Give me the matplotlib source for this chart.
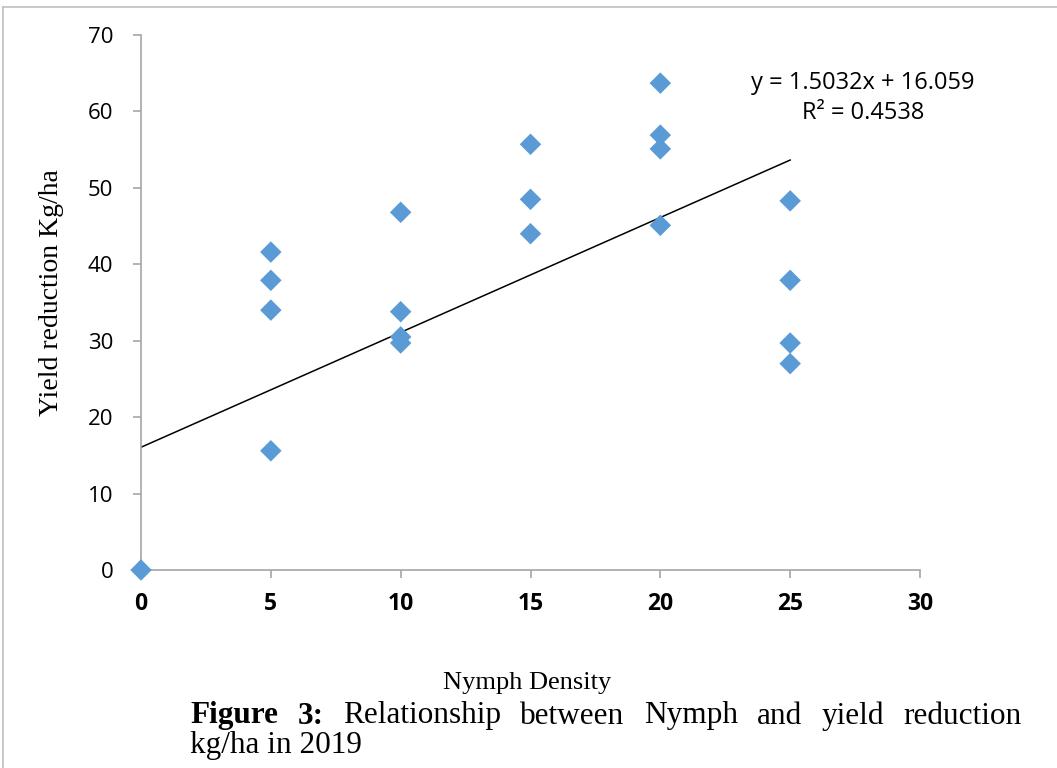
import matplotlib
matplotlib.use("Agg")
import matplotlib.pyplot as plt
from matplotlib.lines import Line2D
import numpy as np

# Data
nymph_density = [0, 5, 5, 5, 5, 10, 10, 10, 10, 15, 15, 15, 20, 20, 20, 20, 25, 25, 25, 25]
yield_reduction = [0, 41.6, 37.9, 34.0, 15.6, 46.8, 33.8, 30.5, 29.7, 55.7, 48.5, 44.0,
                   63.7, 56.9, 55.1, 45.1, 48.3, 37.9, 29.7, 27.0]
slope = 1.5032
intercept = 16.059
r_squared = 0.4538
x_ticks = [0, 5, 10, 15, 20, 25, 30]
y_ticks = [0, 10, 20, 30, 40, 50, 60, 70]

W, H = 1057, 768
fig = plt.figure(figsize=(W / 100, H / 100), dpi=100)
ax = fig.add_axes([141 / W, 1 - 570 / H, (920 - 141) / W, (570 - 35) / H])

ax.scatter(nymph_density, yield_reduction, marker='D', s=120, color='#5B9BD5',
           edgecolors='none', zorder=3, clip_on=False)
xl = np.array([0, 25])
ax.plot(xl, slope * xl + intercept, color='black', lw=1.1, zorder=2)

ax.set_xlim(0, 30)
ax.set_ylim(0, 70)
ax.set_xticks(x_ticks)
ax.set_yticks(y_ticks)
for s in ['top', 'right']:
    ax.spines[s].set_visible(False)
for s in ['left', 'bottom']:
    ax.spines[s].set_color('#A6A6A6')
    ax.spines[s].set_linewidth(1.2)
ax.tick_params(axis='both', colors='#A6A6A6', length=5.5, width=1.2, direction='out')
ax.tick_params(axis='y', labelcolor='black', labelsize=16, pad=14.5)
ax.tick_params(axis='x', labelcolor='black', labelsize=16.5, pad=10)
for lab in ax.get_yticklabels():
    lab.set_family('Open Sans')
for lab in ax.get_xticklabels():
    lab.set_family('Open Sans')
    lab.set_fontweight('bold')

ax.text(27.8, 63.7, f"y = {slope}x + {intercept}", ha='center', va='center',
        fontsize=17, family='Open Sans')
ax.text(27.8, 59.8, f"R² = {r_squared}", ha='center', va='center',
        fontsize=17, family='Open Sans')

fig.text(52 / W, 1 - 293 / H, "Yield reduction Kg/ha", rotation=90, ha='center',
         va='center', fontsize=20, family='Liberation Serif')
fig.text(527 / W, 1 - 683 / H, "Nymph Density", ha='center', va='center',
         fontsize=19, family='Liberation Serif')

# Frame lines
fig.add_artist(Line2D([3 / W, 3 / W], [0, 1 - 7 / H], transform=fig.transFigure,
                      color='#BFBFBF', lw=1.2))
fig.add_artist(Line2D([3 / W, 1], [1 - 7 / H, 1 - 7 / H], transform=fig.transFigure,
                      color='#BFBFBF', lw=1.2))

# Justified caption
fig.canvas.draw()
renderer = fig.canvas.get_renderer()
words = [("Figure", 'bold'), ("3:", 'bold'), ("Relationship", 'normal'), ("between", 'normal'),
         ("Nymph", 'normal'), ("and", 'normal'), ("yield", 'normal'), ("reduction", 'normal')]
fs = 22.5
x0, x1 = 190, 1022
ytop = 1 - 716 / H
arts = []
widths = []
for w, wt in words:
    t = fig.text(0, ytop, w, fontsize=fs, family='Liberation Serif', fontweight=wt,
                 ha='left', va='center')
    bb = t.get_window_extent(renderer)
    arts.append(t)
    widths.append(bb.width)
gap = (x1 - x0 - sum(widths)) / (len(words) - 1)
x = x0
for t, wd in zip(arts, widths):
    t.set_x(x / W)
    x += wd + gap
fig.text(x0 / W, 1 - 746 / H, "kg/ha in 2019", fontsize=fs, family='Liberation Serif',
         ha='left', va='center')

fig.savefig("out.png", dpi=100)
